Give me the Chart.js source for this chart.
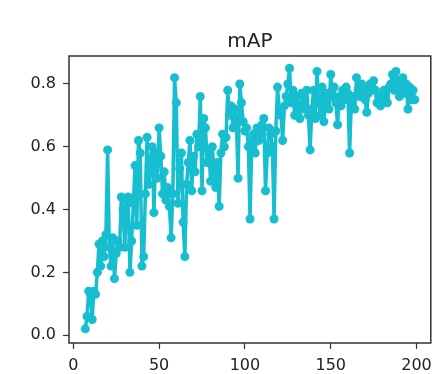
<!DOCTYPE html>
<html>
<head>
<meta charset="utf-8">
<script src="https://cdn.jsdelivr.net/npm/chart.js@4/dist/chart.umd.min.js"></script>
<style>
  html, body { margin: 0; padding: 0; background: #fff; }
  #wrap { width: 439px; height: 374px; position: relative; }
</style>
</head>
<body>
<div id="wrap"><canvas id="mapChart"></canvas></div>
<script>
// --- Données ---
const epochStart = 7;
const mapValues = [
  0.02, 0.06, 0.14, 0.13, 0.05, 0.14, 0.13, 0.20, 0.29, 0.22,   // 7-16
  0.30, 0.25, 0.32, 0.59, 0.28, 0.22, 0.31, 0.18, 0.26, 0.30,   // 17-26
  0.28, 0.44, 0.40, 0.28, 0.43, 0.44, 0.20, 0.30, 0.42, 0.54,   // 27-36
  0.35, 0.62, 0.58, 0.22, 0.25, 0.45, 0.63, 0.48, 0.55, 0.60,   // 37-46
  0.39, 0.58, 0.50, 0.66, 0.57, 0.45, 0.52, 0.43, 0.47, 0.41,   // 47-56
  0.31, 0.45, 0.82, 0.74, 0.42, 0.53, 0.58, 0.36, 0.25, 0.48,   // 57-66
  0.55, 0.62, 0.46, 0.57, 0.52, 0.64, 0.60, 0.76, 0.46, 0.69,   // 67-76
  0.66, 0.55, 0.59, 0.49, 0.60, 0.52, 0.47, 0.55, 0.41, 0.58,   // 77-86
  0.64, 0.60, 0.63, 0.78, 0.70, 0.73, 0.66, 0.72, 0.69, 0.50,   // 87-96
  0.80, 0.74, 0.68, 0.65, 0.66, 0.60, 0.37, 0.62, 0.64, 0.58,   // 97-106
  0.66, 0.62, 0.64, 0.67, 0.69, 0.46, 0.58, 0.66, 0.64, 0.60,   // 107-116
  0.37, 0.65, 0.79, 0.72, 0.70, 0.62, 0.73, 0.76, 0.80, 0.85,   // 117-126
  0.74, 0.78, 0.70, 0.76, 0.73, 0.69, 0.77, 0.72, 0.75, 0.78,   // 127-136
  0.70, 0.59, 0.72, 0.78, 0.69, 0.84, 0.74, 0.70, 0.79, 0.68,   // 137-146
  0.75, 0.77, 0.72, 0.83, 0.76, 0.79, 0.74, 0.67, 0.76, 0.73,   // 147-156
  0.78, 0.75, 0.79, 0.77, 0.58, 0.74, 0.76, 0.72, 0.82, 0.78,   // 157-166
  0.76, 0.80, 0.79, 0.75, 0.71, 0.77, 0.80, 0.79, 0.81, 0.78,   // 167-176
  0.74, 0.76, 0.73, 0.75, 0.78, 0.76, 0.74, 0.79, 0.80, 0.83,   // 177-186
  0.78, 0.84, 0.81, 0.76, 0.79, 0.82, 0.77, 0.80, 0.72, 0.79,   // 187-196
  0.75, 0.78, 0.75                                              // 197-199
];
const xTicks = [0, 50, 100, 150, 200];
const yTicks = [0.0, 0.2, 0.4, 0.6, 0.8];
const chartTitle = 'mAP';

const points = mapValues.map((v, i) => ({ x: epochStart + i, y: v }));

// Cadre complet + titre centré sur la zone de tracé (style matplotlib)
const framePlugin = {
  id: 'frame',
  afterDatasetsDraw(chart) {
    const { ctx, chartArea: a } = chart;
    ctx.save();
    ctx.strokeStyle = '#333';
    ctx.lineWidth = 1.5;
    ctx.strokeRect(a.left, a.top, a.right - a.left, a.bottom - a.top);
    ctx.fillStyle = '#222';
    ctx.font = '20px "DejaVu Sans"';
    ctx.textAlign = 'center';
    ctx.textBaseline = 'alphabetic';
    ctx.fillText(chartTitle, (a.left + a.right) / 2, 47);
    ctx.restore();
  }
};

const tickFont = { family: 'DejaVu Sans', size: 16 };

new Chart(document.getElementById('mapChart'), {
  type: 'line',
  data: {
    datasets: [{
      data: points,
      borderColor: '#17becf',
      backgroundColor: '#17becf',
      borderWidth: 3.5,
      borderJoinStyle: 'round',
      borderCapStyle: 'round',
      pointRadius: 4.5,
      pointHoverRadius: 4.5,
      pointBorderWidth: 0,
      tension: 0
    }]
  },
  options: {
    responsive: true,
    maintainAspectRatio: false,
    animation: false,
    layout: { padding: { left: 0, right: 5, top: 56, bottom: 0 } },
    plugins: {
      legend: { display: false },
      tooltip: { enabled: false },
      title: { display: false }
    },
    scales: {
      x: {
        type: 'linear',
        min: -2.5,
        max: 208.3,
        afterFit: s => { s.height = 31; },
        afterBuildTicks: s => { s.ticks = xTicks.map(v => ({ value: v })); },
        ticks: { color: '#222', font: tickFont, padding: 7, includeBounds: false },
        grid: { display: true, drawOnChartArea: false, tickLength: 6, tickColor: '#333', tickWidth: 1.2, color: '#333' },
        border: { display: false }
      },
      y: {
        type: 'linear',
        min: -0.025,
        max: 0.889,
        afterFit: s => { s.width = 69; },
        afterBuildTicks: s => { s.ticks = yTicks.map(v => ({ value: v })); },
        ticks: { color: '#222', font: tickFont, padding: 7, callback: v => v.toFixed(1) },
        grid: { display: true, drawOnChartArea: false, tickLength: 6, tickColor: '#333', tickWidth: 1.2, color: '#333' },
        border: { display: false }
      }
    }
  },
  plugins: [framePlugin]
});
</script>
</body>
</html>
